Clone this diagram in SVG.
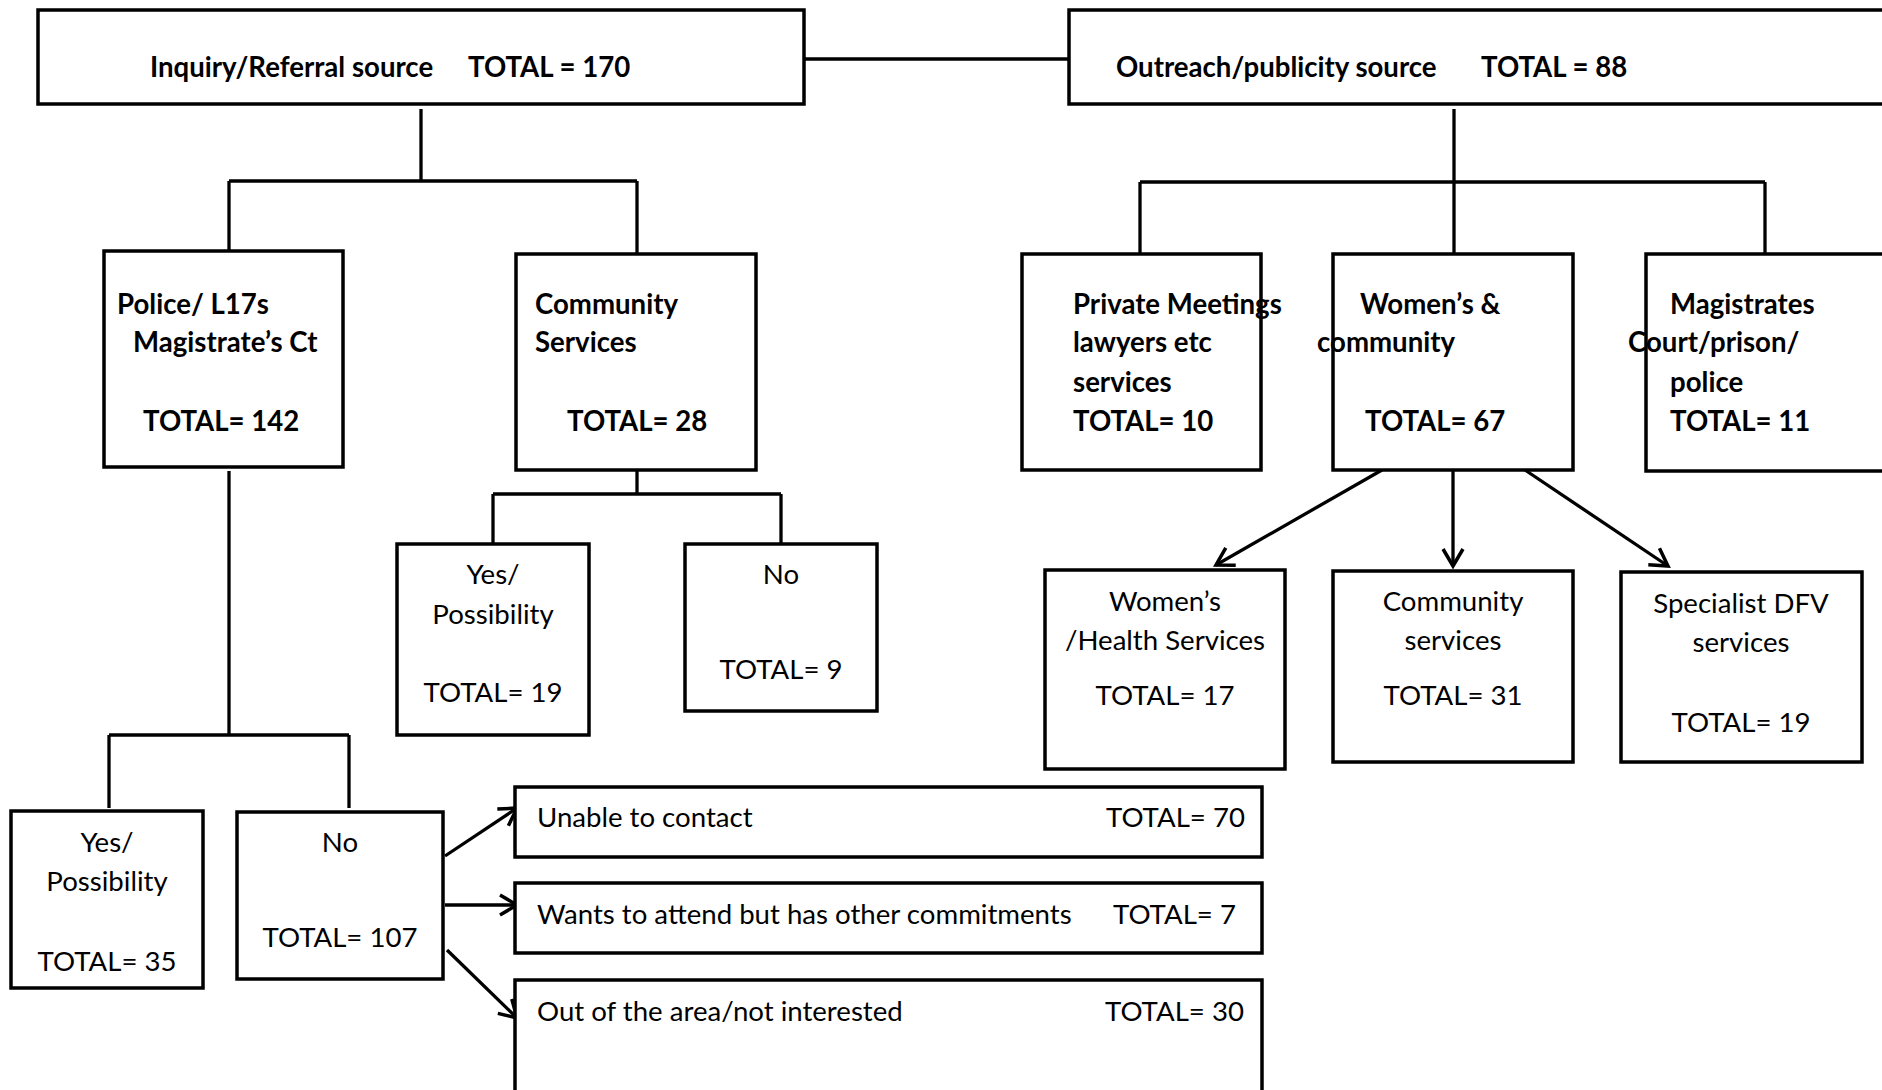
<svg xmlns="http://www.w3.org/2000/svg" width="1882" height="1090" viewBox="0 0 1882 1090">
<style>
.box{fill:#fff;stroke:#000;stroke-width:3.5}
.ln{fill:none;stroke:#000;stroke-width:3.3}
.b{font-family:Lato,"Liberation Sans",sans-serif;font-weight:700;font-size:27.6px;fill:#000}
.r{font-family:Lato,"Liberation Sans",sans-serif;font-weight:400;font-size:27.6px;fill:#000}
.c{text-anchor:middle}
</style>
<defs>
<marker id="arr" markerUnits="userSpaceOnUse" markerWidth="26" markerHeight="26" viewBox="0 0 26 26" refX="20" refY="13" orient="auto">
<path d="M3,3 L20,13 L3,23" fill="none" stroke="#000" stroke-width="3.5"/>
</marker>
</defs>
<rect width="1882" height="1090" fill="#fff"/>
<g id="connectors">
<line class="ln" x1="805" y1="59" x2="1068" y2="59"/>
<path class="ln" d="M421,109 V181 M229,181 H637 M229,181 V251 M637,181 V254"/>
<path class="ln" d="M1454,109 V254 M1140,182 H1765 M1140,182 V254 M1765,182 V254"/>
<path class="ln" d="M637,470 V494 M493,494 H781 M493,494 V544 M781,494 V544"/>
<path class="ln" d="M229,471 V735 M109,735 H349 M109,735 V808 M349,735 V808"/>
<line class="ln" x1="1382" y1="470" x2="1216" y2="565" marker-end="url(#arr)"/>
<line class="ln" x1="1453" y1="470" x2="1453" y2="566" marker-end="url(#arr)"/>
<line class="ln" x1="1525" y1="470" x2="1668" y2="566" marker-end="url(#arr)"/>
<line class="ln" x1="445" y1="856" x2="517" y2="808" marker-end="url(#arr)"/>
<line class="ln" x1="445" y1="905" x2="517" y2="905" marker-end="url(#arr)"/>
<line class="ln" x1="447" y1="950" x2="517" y2="1018" marker-end="url(#arr)"/>
</g>
<g id="inquiry">
<rect class="box" x="38" y="10" width="766" height="94"/>
<text class="b" x="150" y="77">Inquiry/Referral source</text>
<text class="b" x="468" y="77">TOTAL = 170</text>
</g>
<g id="outreach">
<rect class="box" x="1069" y="10" width="830" height="94"/>
<text class="b" x="1116" y="77">Outreach/publicity source</text>
<text class="b" x="1481" y="77">TOTAL = 88</text>
</g>
<g id="police">
<rect class="box" x="104" y="251" width="239" height="216"/>
<text class="b" x="117" y="314">Police/ L17s</text>
<text class="b" x="133" y="352">Magistrate’s Ct</text>
<text class="b" x="143" y="431">TOTAL= 142</text>
</g>
<g id="community-services">
<rect class="box" x="516" y="254" width="240" height="216"/>
<text class="b" x="535" y="314">Community</text>
<text class="b" x="535" y="352">Services</text>
<text class="b" x="567" y="431">TOTAL= 28</text>
</g>
<g id="private-meetings">
<rect class="box" x="1022" y="254" width="239" height="216"/>
<text class="b" x="1073" y="314">Private Meetings</text>
<text class="b" x="1073" y="352">lawyers etc</text>
<text class="b" x="1073" y="392">services</text>
<text class="b" x="1073" y="431">TOTAL= 10</text>
</g>
<g id="womens-community">
<rect class="box" x="1333" y="254" width="240" height="216"/>
<text class="b" x="1360" y="314">Women’s &amp;</text>
<text class="b" x="1317" y="352">community</text>
<text class="b" x="1365" y="431">TOTAL= 67</text>
</g>
<g id="magistrates">
<rect class="box" x="1646" y="254" width="250" height="217"/>
<text class="b" x="1670" y="314">Magistrates</text>
<text class="b" x="1628" y="352">Court/prison/</text>
<text class="b" x="1670" y="392">police</text>
<text class="b" x="1670" y="431">TOTAL= 11</text>
</g>
<g id="womens-health">
<rect class="box" x="1045" y="570" width="240" height="199"/>
<text class="r c" x="1165" y="611">Women’s</text>
<text class="r c" x="1165" y="650">/Health Services</text>
<text class="r c" x="1165" y="705">TOTAL= 17</text>
</g>
<g id="community-services-2">
<rect class="box" x="1333" y="571" width="240" height="191"/>
<text class="r c" x="1453" y="611">Community</text>
<text class="r c" x="1453" y="650">services</text>
<text class="r c" x="1453" y="705">TOTAL= 31</text>
</g>
<g id="specialist-dfv">
<rect class="box" x="1621" y="572" width="241" height="190"/>
<text class="r c" x="1741" y="613">Specialist DFV</text>
<text class="r c" x="1741" y="652">services</text>
<text class="r c" x="1741" y="732">TOTAL= 19</text>
</g>
<g id="cs-yes">
<rect class="box" x="397" y="544" width="192" height="191"/>
<text class="r c" x="493" y="584">Yes/</text>
<text class="r c" x="493" y="624">Possibility</text>
<text class="r c" x="493" y="702">TOTAL= 19</text>
</g>
<g id="cs-no">
<rect class="box" x="685" y="544" width="192" height="167"/>
<text class="r c" x="781" y="584">No</text>
<text class="r c" x="781" y="679">TOTAL= 9</text>
</g>
<g id="police-yes">
<rect class="box" x="11" y="811" width="192" height="177"/>
<text class="r c" x="107" y="852">Yes/</text>
<text class="r c" x="107" y="891">Possibility</text>
<text class="r c" x="107" y="971">TOTAL= 35</text>
</g>
<g id="police-no">
<rect class="box" x="237" y="812" width="206" height="167"/>
<text class="r c" x="340" y="852">No</text>
<text class="r c" x="340" y="947">TOTAL= 107</text>
</g>
<g id="unable">
<rect class="box" x="515" y="787" width="747" height="70"/>
<text class="r" x="537" y="827">Unable to contact</text>
<text class="r" x="1106" y="827">TOTAL= 70</text>
</g>
<g id="wants">
<rect class="box" x="515" y="883" width="747" height="70"/>
<text class="r" x="537" y="924">Wants to attend but has other commitments</text>
<text class="r" x="1113" y="924">TOTAL= 7</text>
</g>
<g id="out-of-area">
<rect class="box" x="515" y="980" width="747" height="130"/>
<text class="r" x="537" y="1021">Out of the area/not interested</text>
<text class="r" x="1105" y="1021">TOTAL= 30</text>
</g>
</svg>
